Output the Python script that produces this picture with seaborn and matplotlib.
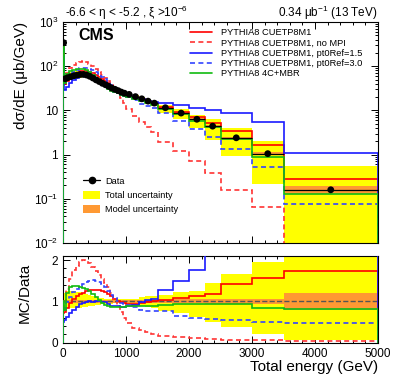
import numpy as np
import matplotlib
matplotlib.use("Agg")
import matplotlib.pyplot as plt
import seaborn as sns
from matplotlib.lines import Line2D
from matplotlib.patches import Patch
from matplotlib.ticker import MultipleLocator, LogLocator, NullFormatter

# Bin edges (GeV)
edges = [0, 20, 50, 100, 150, 200, 250, 300, 350, 400, 450, 500, 550, 600, 650, 700,
         750, 800, 850, 900, 950, 1000, 1100, 1200, 1300, 1400, 1500, 1750, 2000,
         2250, 2500, 3000, 3500, 5000]

# Measured dsigma/dE (ub/GeV)
data_vals = [340, 52, 55, 58, 61, 63, 65, 65, 63, 59, 54, 49, 45, 41, 38, 35, 32, 30,
             28, 26, 24.5, 23, 20.5, 18.3, 16.2, 14.6, 11.5, 8.7, 6.3, 4.4, 2.4, 1.05, 0.16]

# Relative total uncertainty (up / down) and model uncertainty
tot_up = [0.15, 0.20, 0.25, 0.25, 0.25, 0.24, 0.22, 0.20, 0.18, 0.15, 0.13, 0.11, 0.09,
          0.08, 0.07, 0.06, 0.06, 0.05, 0.05, 0.05, 0.05, 0.06, 0.07, 0.10, 0.12, 0.13,
          0.16, 0.22, 0.26, 0.45, 0.67, 0.95, 2.4]
tot_dn = [0.15, 0.15, 0.17, 0.17, 0.17, 0.16, 0.15, 0.14, 0.13, 0.12, 0.10, 0.09, 0.08,
          0.07, 0.06, 0.06, 0.06, 0.05, 0.05, 0.05, 0.05, 0.07, 0.09, 0.12, 0.14, 0.15,
          0.23, 0.27, 0.37, 0.51, 0.61, 0.79, 0.94]
model_unc = [0.03, 0.03, 0.03, 0.03, 0.03, 0.03, 0.03, 0.03, 0.03, 0.03, 0.03, 0.03, 0.03,
             0.03, 0.03, 0.03, 0.03, 0.03, 0.03, 0.03, 0.03, 0.03, 0.03, 0.03, 0.03, 0.03,
             0.04, 0.05, 0.05, 0.06, 0.06, 0.07, 0.20]

# MC / Data ratios
r_cuetp = [0.72, 0.75, 0.85, 0.97, 1.07, 1.13, 1.18, 1.20, 1.25, 1.28, 1.28, 1.28, 1.27,
           1.26, 1.22, 1.17, 1.12, 1.07, 1.02, 0.98, 0.96, 0.94, 0.94, 0.97, 0.99, 1.00,
           1.03, 1.08, 1.12, 1.19, 1.41, 1.57, 1.73]
r_nompi = [0.9, 1.0, 1.3, 1.55, 1.75, 1.85, 1.95, 2.0, 1.97, 1.92, 1.83, 1.73, 1.65,
           1.55, 1.45, 1.35, 1.2, 1.05, 0.9, 0.75, 0.6, 0.47, 0.36, 0.3, 0.26, 0.22,
           0.17, 0.14, 0.116, 0.086, 0.066, 0.063, 0.03]
r_pt15 = [0.5, 0.55, 0.63, 0.72, 0.8, 0.87, 0.93, 0.96, 0.98, 1.0, 0.99, 1.0, 1.0,
          0.99, 0.98, 0.93, 0.9, 0.89, 0.88, 0.87, 0.87, 0.88, 0.92, 0.98, 1.03, 1.07,
          1.27, 1.49, 1.77, 2.3, 3.6, 5.3, 6.7]
r_pt30 = [0.8, 0.85, 0.98, 1.1, 1.22, 1.3, 1.37, 1.42, 1.46, 1.5, 1.52, 1.5, 1.47,
          1.42, 1.35, 1.25, 1.15, 1.08, 1.02, 0.97, 0.93, 0.91, 0.86, 0.78, 0.76, 0.76,
          0.76, 0.65, 0.59, 0.58, 0.56, 0.49, 0.48]
r_4c = [1.0, 0.8, 1.2, 1.35, 1.37, 1.37, 1.36, 1.33, 1.3, 1.25, 1.17, 1.1, 1.03,
        0.97, 0.92, 0.88, 0.87, 0.87, 0.87, 0.87, 0.87, 0.88, 0.88, 0.89, 0.9, 0.9,
        0.92, 0.93, 0.93, 0.94, 0.94, 0.85, 0.82]

mc_labels = ["PYTHIA8 CUETP8M1", "PYTHIA8 CUETP8M1, no MPI",
             "PYTHIA8 CUETP8M1, pt0Ref=1.5", "PYTHIA8 CUETP8M1, pt0Ref=3.0",
             "PYTHIA8 4C+MBR"]

sns.set_style("ticks")
plt.rcParams["font.family"] = ["Liberation Sans", "DejaVu Sans"]
plt.rcParams["mathtext.fontset"] = "custom"
plt.rcParams["mathtext.rm"] = "Liberation Sans"
plt.rcParams["mathtext.it"] = "Liberation Sans:italic"
plt.rcParams["mathtext.bf"] = "Liberation Sans:bold"
plt.rcParams["axes.linewidth"] = 0.8
plt.rcParams["axes.edgecolor"] = "black"
plt.rcParams["xtick.color"] = "black"
plt.rcParams["ytick.color"] = "black"
plt.rcParams["text.color"] = "black"
plt.rcParams["axes.labelcolor"] = "black"

edges = np.array(edges, dtype=float)
data = np.array(data_vals)
centers = 0.5 * (edges[:-1] + edges[1:])
halfw = 0.5 * (edges[1:] - edges[:-1])
up = np.array(tot_up)
dn = np.array(tot_dn)
mu = np.array(model_unc)

YELLOW = "#ffff00"
ORANGE = "#ff9933"
LW = 1.2
DASHED = (0, (2.5 * LW, 1.7 * LW))
mc_styles = [
    (r_cuetp, "#ff0000", "-"),
    (r_nompi, "#ff3333", DASHED),
    (r_pt15, "#1a1aff", "-"),
    (r_pt30, "#3344ff", DASHED),
    (r_4c, "#11bb11", "-"),
]

fig = plt.figure(figsize=(3.99, 3.84), dpi=100)
ax = fig.add_axes([0.1579, 0.3672, 0.7895, 0.5755])
rax = fig.add_axes([0.1579, 0.1076, 0.7895, 0.2257])

# ---- main panel ----
ax.stairs(data * (1 + up), edges, baseline=data * (1 - dn), fill=True, color=YELLOW, lw=0, zorder=1)
ax.stairs(data * (1 + mu), edges, baseline=data * (1 - mu), fill=True, color=ORANGE, lw=0, zorder=2)
for ratio, col, ls in mc_styles:
    ax.stairs(np.array(ratio) * data, edges, baseline=1e-4, color=col, lw=LW, linestyle=ls, zorder=3)
ax.errorbar(centers, data, xerr=halfw, fmt="none", ecolor="black", elinewidth=0.9, zorder=5)
sns.scatterplot(x=centers, y=data, ax=ax, color="black", s=24, edgecolor="none", zorder=6, legend=False)

ax.set_yscale("log")
ax.set_xlim(0, 5000)
ax.set_ylim(1e-2, 1e3)
ax.set_yticks([1e-2, 1e-1, 1, 10, 100, 1000])
ax.set_yticklabels(["$10^{-2}$", "$10^{-1}$", "1", "10", "$10^{2}$", "$10^{3}$"])
ax.yaxis.set_minor_locator(LogLocator(base=10, subs=np.arange(2, 10), numticks=20))
ax.yaxis.set_minor_formatter(NullFormatter())
ax.xaxis.set_major_locator(MultipleLocator(1000))
ax.xaxis.set_minor_locator(MultipleLocator(200))
ax.tick_params(axis="x", labelbottom=False)
ax.tick_params(which="both", direction="in", top=True, right=True, labelsize=8.5, width=0.7)
ax.tick_params(which="major", length=5)
ax.tick_params(which="minor", length=2.5)
ax.set_xlabel("")
ax.set_ylabel("dσ/dE (μb/GeV)", fontsize=11, loc="top")
ax.yaxis.set_label_coords(-0.111, 1.0)

ax.text(0.048, 0.919, "CMS", transform=ax.transAxes, fontsize=11.5, fontweight="bold", va="baseline")
ax.text(0.005, 1.0226, "-6.6 < η < -5.2 , ξ >10$^{-6}$", transform=ax.transAxes,
        fontsize=8.5, va="baseline", ha="left")
ax.text(1.0, 1.0226, "0.34 μb$^{-1}$ (13 TeV)", transform=ax.transAxes,
        fontsize=8.5, va="baseline", ha="right")

mc_handles = [Line2D([], [], color=col, lw=LW, linestyle=ls) for _, col, ls in mc_styles]
leg1 = ax.legend(mc_handles, mc_labels, loc="upper left", bbox_to_anchor=(0.403, 0.972),
                 frameon=False, fontsize=6.7, handlelength=2.37, handletextpad=0.97,
                 labelspacing=0.14, borderpad=0, borderaxespad=0)
ax.add_artist(leg1)
data_handles = [Line2D([], [], color="black", marker="o", markersize=4.5, lw=0.9),
                Patch(facecolor=YELLOW, edgecolor="none"),
                Patch(facecolor=ORANGE, edgecolor="none")]
ax.legend(data_handles, ["Data", "Total uncertainty", "Model uncertainty"], loc="upper left",
          bbox_to_anchor=(0.0635, 0.301), frameon=False, fontsize=6.7, handlelength=1.83,
          handleheight=0.97, handletextpad=0.54, labelspacing=0.53, borderpad=0, borderaxespad=0)

# ---- ratio panel ----
ones = np.ones_like(data)
rax.stairs(ones + up, edges, baseline=ones - dn, fill=True, color=YELLOW, lw=0, zorder=1)
rax.stairs(ones + mu, edges, baseline=ones - mu, fill=True, color=ORANGE, lw=0, zorder=2)
sns.lineplot(x=[0, 5000], y=[1, 1], ax=rax, color="#555555", lw=1.0, linestyle="--", zorder=3)
for ratio, col, ls in mc_styles:
    rax.stairs(ratio, edges, baseline=0, color=col, lw=LW, linestyle=ls, zorder=4)

rax.set_xlim(0, 5000)
rax.set_ylim(0, 2.1)
rax.set_yticks([0, 1, 2])
rax.yaxis.set_minor_locator(MultipleLocator(0.2))
rax.xaxis.set_major_locator(MultipleLocator(1000))
rax.xaxis.set_minor_locator(MultipleLocator(200))
rax.tick_params(which="both", direction="in", top=True, right=True, labelsize=8.5, width=0.7)
rax.tick_params(which="major", length=5)
rax.tick_params(which="minor", length=2.5)
rax.set_ylabel("MC/Data", fontsize=11)
rax.yaxis.set_label_coords(-0.098, 0.57)
rax.set_xlabel("Total energy (GeV)", fontsize=11, loc="right")
rax.xaxis.set_label_coords(1.0, -0.2)

fig.savefig("out.png", dpi=100)
